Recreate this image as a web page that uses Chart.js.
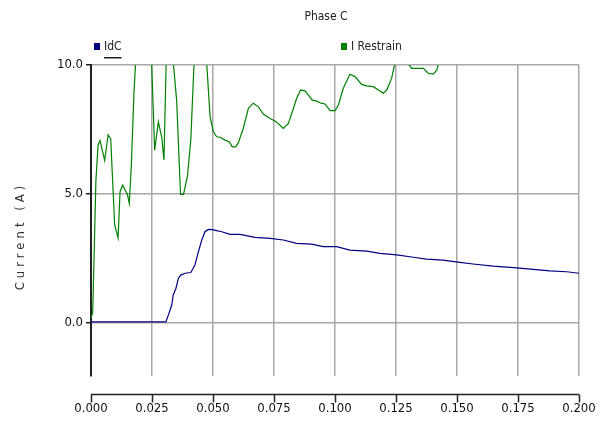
<!DOCTYPE html>
<html>
<head>
<meta charset="utf-8">
<script src="https://cdn.jsdelivr.net/npm/chart.js@4"></script>
<style>
  html, body { margin: 0; padding: 0; background: #fff; }
  #wrap { width: 601px; height: 428px; }
</style>
</head>
<body>
<div id="wrap"><canvas id="myChart" width="601" height="428"></canvas></div>
<script>
const chartTitle = 'Phase C';
const yAxisTitle = 'Current (A)';
const seriesNames = ['IdC', 'I Restrain'];

const xTickValues = [0, 0.025, 0.05, 0.075, 0.1, 0.125, 0.15, 0.175, 0.2];
const yTickValues = [0, 5, 10];

// IdC
const blueTime = [0, 0.0307, 0.0317, 0.0331, 0.0337, 0.0348, 0.0358, 0.0368, 0.0385, 0.0409,
    0.0426, 0.0440, 0.0454, 0.0467, 0.0481, 0.0499, 0.0515, 0.0536, 0.0570, 0.0611,
    0.0672, 0.0734, 0.0788, 0.0843, 0.0904, 0.0952, 0.1007, 0.1061, 0.1130, 0.1184,
    0.1253, 0.1321, 0.1375, 0.1443, 0.1512, 0.1566, 0.1648, 0.1745, 0.1812, 0.1881,
    0.1950, 0.2000];
const blueValues = [0.05, 0.05, 0.31, 0.70, 1.09, 1.34, 1.73, 1.86, 1.93, 1.96,
    2.25, 2.76, 3.22, 3.54, 3.63, 3.62, 3.58, 3.54, 3.44, 3.44,
    3.32, 3.28, 3.22, 3.09, 3.06, 2.96, 2.96, 2.83, 2.79, 2.70,
    2.64, 2.55, 2.48, 2.44, 2.35, 2.29, 2.21, 2.14, 2.08, 2.02,
    1.99, 1.93];

// I Restrain
const greenTime = [0, 0.0007, 0.0020, 0.0029, 0.0037, 0.0056, 0.0070, 0.0081, 0.0086, 0.0097,
    0.0111, 0.0119, 0.0130, 0.0141, 0.0149, 0.0157, 0.0165, 0.0176, 0.0205, 0.0248,
    0.0261, 0.0276, 0.0290, 0.0299, 0.0315, 0.0337, 0.0351, 0.0367, 0.0379, 0.0395,
    0.0409, 0.0440, 0.0474, 0.0488, 0.0501, 0.0515, 0.0529, 0.0549, 0.0566, 0.0579,
    0.0593, 0.0604, 0.0624, 0.0645, 0.0665, 0.0686, 0.0706, 0.0734, 0.0754, 0.0770,
    0.0788, 0.0809, 0.0823, 0.0843, 0.0859, 0.0877, 0.0907, 0.0925, 0.0943, 0.0959,
    0.0973, 0.0980, 0.1000, 0.1014, 0.1034, 0.1061, 0.1082, 0.1109, 0.1130, 0.1157,
    0.1184, 0.1198, 0.1212, 0.1232, 0.1242, 0.1275, 0.1300, 0.1314, 0.1362, 0.1382,
    0.1403, 0.1417, 0.1440, 0.1500, 0.1750, 0.2000];
const greenValues = [0.2, 0.4, 5.5, 6.9, 7.07, 6.3, 7.3, 7.13, 6.06, 3.8,
    3.3, 5.09, 5.35, 5.13, 5.0, 4.64, 6.06, 8.9, 14, 10.2,
    6.7, 7.8, 7.2, 6.32, 13, 10.1, 8.64, 4.99, 4.99, 5.67,
    7.09, 14, 10.1, 8.0, 7.42, 7.22, 7.2, 7.09, 7.03, 6.83,
    6.83, 6.99, 7.54, 8.32, 8.52, 8.38, 8.10, 7.93, 7.83, 7.71,
    7.54, 7.74, 8.13, 8.71, 9.03, 9.0, 8.64, 8.60, 8.52, 8.49,
    8.32, 8.23, 8.23, 8.45, 9.10, 9.64, 9.55, 9.25, 9.19, 9.16,
    8.99, 8.91, 9.03, 9.48, 9.93, 10.8, 10.05, 9.87, 9.87, 9.68,
    9.65, 9.8, 10.6, 11, 11.5, 11.2];

const FONT = "'Liberation Sans Narrow', 'DejaVu Sans Condensed', 'Liberation Sans', Arial, sans-serif";

function toPoints(xs, ys) {
    return xs.map((x, i) => ({ x: x, y: ys[i] }));
}

// title, legend, y title and the detached x axis line
const decorations = {
    id: 'decorations',
    afterDraw(chart) {
        const ctx = chart.ctx;
        const area = chart.chartArea;
        const xs = chart.scales.x;
        ctx.save();
        ctx.fillStyle = '#222';
        ctx.font = '12px ' + FONT;
        ctx.textAlign = 'center';
        ctx.textBaseline = 'middle';
        ctx.fillText(chartTitle, 326, 17);

        // legend
        const legendX = [94, 341];
        ctx.textAlign = 'left';
        chart.data.datasets.forEach((ds, i) => {
            const lx = legendX[i];
            ctx.fillStyle = ds.borderColor;
            ctx.fillRect(lx, 43, 6, 7);
            ctx.fillStyle = '#222';
            ctx.fillText(ds.label, lx + 10, 47);
            if (i === 0) {
                const w = ctx.measureText(ds.label).width;
                ctx.fillRect(lx + 10, 57, w, 1.5);
            }
        });

        // y axis title
        ctx.save();
        ctx.translate(21, 236);
        ctx.rotate(-Math.PI / 2);
        ctx.textAlign = 'center';
        ctx.font = '13px ' + FONT;
        ctx.letterSpacing = '4px';
        ctx.fillStyle = '#333';
        ctx.fillText(yAxisTitle, 0, 0);
        ctx.restore();

        // x axis line below the plot
        const y0 = area.bottom + 18.5;
        ctx.strokeStyle = '#222';
        ctx.lineWidth = 1.5;
        ctx.beginPath();
        ctx.moveTo(xs.left, y0);
        ctx.lineTo(xs.right, y0);
        xs.ticks.forEach(t => {
            const px = Math.round(xs.getPixelForValue(t.value)) + 0.5;
            ctx.moveTo(px, y0);
            ctx.lineTo(px, y0 + 8);
        });
        ctx.stroke();
        ctx.restore();
    }
};

const ctx = document.getElementById('myChart').getContext('2d');
new Chart(ctx, {
    type: 'line',
    data: {
        datasets: [{
            label: seriesNames[0],
            data: toPoints(blueTime, blueValues),
            borderColor: '#000080',
            borderWidth: 1.2,
            pointRadius: 0,
            tension: 0
        }, {
            label: seriesNames[1],
            data: toPoints(greenTime, greenValues),
            borderColor: '#008000',
            borderWidth: 1.2,
            pointRadius: 0,
            tension: 0
        }]
    },
    options: {
        responsive: false,
        animation: false,
        layout: { padding: { top: 65, right: 22, left: 0, bottom: 0 } },
        plugins: {
            legend: { display: false },
            title: { display: false },
            tooltip: { enabled: false }
        },
        scales: {
            x: {
                type: 'linear',
                min: 0,
                max: 0.2,
                afterBuildTicks: scale => { scale.ticks = xTickValues.map(v => ({ value: v })); },
                afterFit: scale => {
                    scale.height = 52;
                    scale.paddingLeft = 0;
                    scale.paddingRight = 0;
                },
                ticks: {
                    padding: 25,
                    color: '#111',
                    font: { family: FONT, size: 13 },
                    callback: v => Number(v).toFixed(3),
                    maxRotation: 0,
                    autoSkip: false
                },
                grid: { color: '#a8a8a8', lineWidth: 1.5, drawTicks: false },
                border: { display: false }
            },
            y: {
                min: -2.05,
                max: 10,
                afterBuildTicks: scale => { scale.ticks = yTickValues.map(v => ({ value: v })); },
                afterFit: scale => { scale.width = 91; },
                ticks: {
                    padding: 3,
                    color: '#111',
                    font: { family: FONT, size: 13 },
                    callback: v => Number(v).toFixed(1)
                },
                grid: { color: '#a8a8a8', lineWidth: 1.5, tickLength: 5, tickColor: '#222', tickWidth: 1.5 },
                border: { display: true, color: '#222', width: 2 }
            }
        }
    },
    plugins: [decorations]
});
</script>
</body>
</html>
